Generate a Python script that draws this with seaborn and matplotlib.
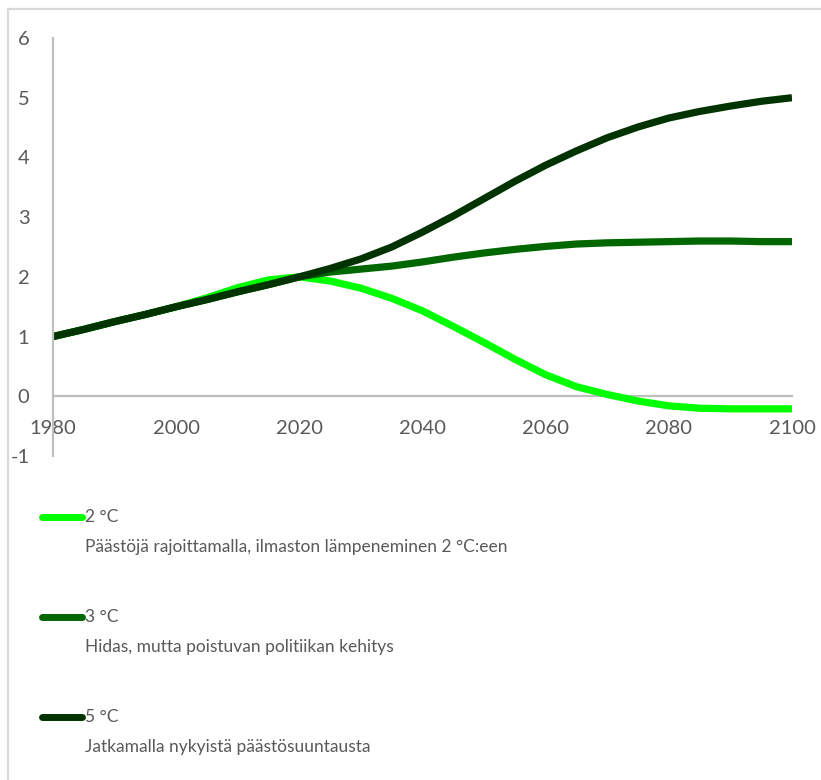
import numpy as np
import pandas as pd
import matplotlib
matplotlib.use("Agg")
import matplotlib.pyplot as plt
from matplotlib.lines import Line2D
from matplotlib.patches import Rectangle
import seaborn as sns

years = [1980, 1985, 1990, 1995, 2000, 2005, 2010, 2015, 2020, 2025, 2030, 2035,
         2040, 2045, 2050, 2055, 2060, 2065, 2070, 2075, 2080, 2085, 2090, 2095, 2100]
s2 = [1.00, 1.12, 1.25, 1.37, 1.50, 1.65, 1.82, 1.95, 2.00, 1.93, 1.81, 1.64,
      1.43, 1.17, 0.90, 0.62, 0.36, 0.16, 0.03, -0.08, -0.16, -0.20, -0.21, -0.21, -0.21]
s3 = [1.00, 1.12, 1.25, 1.37, 1.50, 1.62, 1.75, 1.87, 2.00, 2.08, 2.13, 2.18,
      2.25, 2.33, 2.40, 2.46, 2.51, 2.55, 2.57, 2.58, 2.59, 2.60, 2.60, 2.59, 2.59]
s5 = [1.00, 1.12, 1.25, 1.37, 1.50, 1.62, 1.75, 1.87, 2.00, 2.14, 2.30, 2.50,
      2.75, 3.02, 3.31, 3.60, 3.87, 4.11, 4.33, 4.51, 4.66, 4.77, 4.86, 4.94, 5.00]

series_names = ["2 °C", "3 °C", "5 °C"]
series_desc = ["Päästöjä rajoittamalla, ilmaston lämpeneminen 2 °C:een",
               "Hidas, mutta poistuvan politiikan kehitys",
               "Jatkamalla nykyistä päästösuuntausta"]
colors = ["#00FF00", "#006600", "#003300"]
x_ticks = [1980, 2000, 2020, 2040, 2060, 2080, 2100]
y_ticks = [-1, 0, 1, 2, 3, 4, 5, 6]

df = pd.concat([
    pd.DataFrame({"year": years, "value": vals, "series": name})
    for name, vals in zip(series_names, [s2, s3, s5])
], ignore_index=True)

sns.set_theme(style="white")
plt.rcParams["font.family"] = ["Lato", "DejaVu Sans"]
plt.rcParams["axes.unicode_minus"] = False

W, H = 821, 780
fig = plt.figure(figsize=(W / 100, H / 100), dpi=100)
ax = fig.add_axes([53 / W, 1 - 456 / H, 739 / W, 418 / H])

sns.lineplot(data=df, x="year", y="value", hue="series", palette=colors,
             hue_order=series_names, linewidth=5.2, legend=False, ax=ax,
             solid_capstyle="butt", solid_joinstyle="round")

ax.set_xlim(1980, 2100)
ax.set_ylim(-1, 6)
ax.set_xticks(x_ticks)
ax.set_yticks(y_ticks)
ax.set_xlabel("")
ax.set_ylabel("")
grey = "#595959"
for s in ["top", "right"]:
    ax.spines[s].set_visible(False)
ax.spines["bottom"].set_position(("data", 0))
ax.spines["bottom"].set_color("#bfbfbf")
ax.spines["left"].set_color("#bfbfbf")
ax.spines["bottom"].set_linewidth(1.6)
ax.spines["left"].set_linewidth(1.6)
ax.spines["bottom"].set_zorder(0)
ax.tick_params(axis="both", length=0, labelsize=14.5, labelcolor=grey)
ax.tick_params(axis="x", pad=17)
ax.tick_params(axis="y", pad=17)
ax.patch.set_alpha(0)

# outer light frame (only top/left visible in reference)
fig.add_artist(Rectangle((8 / W, -0.1), 1.2, 1 - 9 / H + 0.1,
                         transform=fig.transFigure, fill=False,
                         edgecolor="#d9d9d9", linewidth=1.6))

# legend
legend_y = [517, 617, 717]
for name, desc, col, yy in zip(series_names, series_desc, colors, legend_y):
    fig.add_artist(Line2D([42 / W, 82 / W], [1 - yy / H, 1 - yy / H],
                          transform=fig.transFigure, color=col, linewidth=5,
                          solid_capstyle="round"))
    fig.text(85 / W, 1 - yy / H, name, color=grey, fontsize=12.5, va="center", ha="left")
    fig.text(85 / W, 1 - (yy + 30) / H, desc, color=grey, fontsize=12.5,
             va="center", ha="left")

fig.savefig("out.png", dpi=100)
